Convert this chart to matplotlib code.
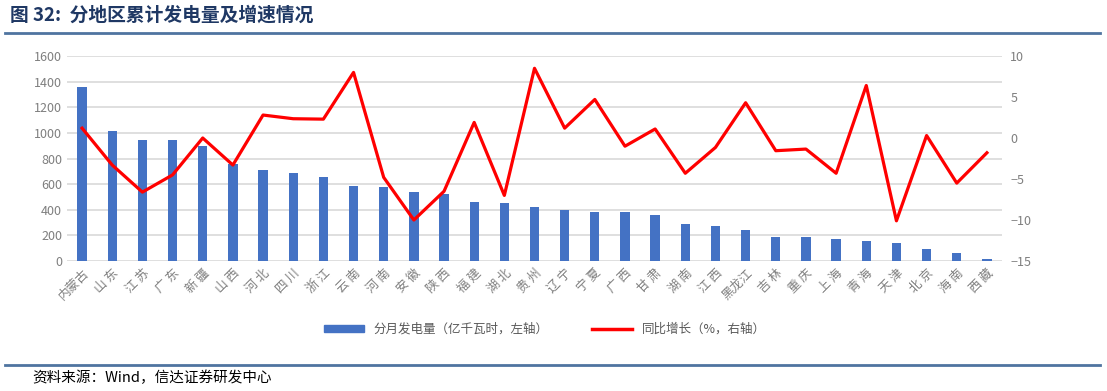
import matplotlib.pyplot as plt
from matplotlib.lines import Line2D
from matplotlib.patches import Patch

plt.rcParams['font.family'] = ['Noto Sans CJK SC', 'DejaVu Sans']

regions = ["内蒙古", "山 东", "江 苏", "广 东", "新 疆", "山 西", "河 北", "四 川",
           "浙 江", "云 南", "河 南", "安 徽", "陕 西", "福 建", "湖 北", "贵 州",
           "辽 宁", "宁 夏", "广 西", "甘 肃", "湖 南", "江 西", "黑龙江", "吉 林",
           "重 庆", "上 海", "青 海", "天 津", "北 京", "海 南", "西 藏"]
generation = [1360, 1015, 948, 942, 895, 758, 712, 686, 659, 588, 577, 536, 523,
              463, 450, 424, 398, 385, 379, 359, 289, 273, 242, 190, 185, 172,
              154, 138, 94, 65, 16]
growth = [1.2, -3.3, -6.6, -4.5, 0.0, -3.3, 2.8, 2.35, 2.3, 8.0, -4.8, -10.0,
          -6.5, 1.9, -7.0, 8.5, 1.2, 4.7, -1.0, 1.1, -4.3, -1.15, 4.3, -1.55,
          -1.35, -4.3, 6.4, -10.1, 0.3, -5.5, -1.8]

bar_color = "#4472C4"
line_color = "#FF0000"
tick_color = "#7f7f7f"
grid_color = "#d9d9d9"

fig = plt.figure(figsize=(11.07, 3.91), dpi=100)
W, H = 1107, 391

# title and frame lines
fig.text(10 / W, 1 - 15 / H, "图 32:  分地区累计发电量及增速情况", fontsize=13.5,
         fontweight="bold", color="#1f3864", va="center", ha="left")
fig.add_artist(Line2D([5 / W, 1100 / W], [1 - 33 / H] * 2, color="#4f74a0", lw=2))
fig.add_artist(Line2D([5 / W, 1100 / W], [1 - 365 / H] * 2, color="#4f74a0", lw=2))
fig.text(32 / W, 1 - 378 / H, "资料来源：Wind，信达证券研发中心", fontsize=10.5,
         style="italic", color="#000000", va="center", ha="left")

ax = fig.add_axes([67 / W, 1 - 261 / H, 935 / W, 205 / H])
x = list(range(len(regions)))
ax.bar(x, generation, width=0.31, color=bar_color, zorder=2)
ax.set_ylim(0, 1600)
ax.set_yticks(range(0, 1601, 200))
ax.set_xlim(-0.5, len(regions) - 0.5)
ax.set_xticks(x)
ax.set_xticklabels(regions, rotation=45, ha="right", rotation_mode="anchor",
                   fontsize=9.5, color=tick_color)
ax.grid(axis="y", color=grid_color, lw=1.2, zorder=0)
for s in ax.spines.values():
    s.set_visible(False)
ax.tick_params(axis="both", length=0, colors=tick_color, labelsize=9)
ax.tick_params(axis="x", pad=4)

ax2 = ax.twinx()
ax2.plot(x, growth, color=line_color, lw=2.3, zorder=3)
ax2.set_ylim(-15, 10)
ax2.set_yticks(range(-15, 11, 5))
for s in ax2.spines.values():
    s.set_visible(False)
ax2.tick_params(axis="y", length=0, colors=tick_color, labelsize=9, pad=6)

handles = [Patch(color=bar_color), Line2D([], [], color=line_color, lw=2.5)]
labels = ["分月发电量（亿千瓦时，左轴）", "同比增长（%，右轴）"]
fig.legend(handles, labels, loc="center", bbox_to_anchor=(545 / W, 1 - 329 / H),
           ncol=2, frameon=False, fontsize=9, labelcolor="#595959",
           handlelength=3.2, handleheight=0.5, columnspacing=3.5)

fig.savefig("out.png", dpi=100)
